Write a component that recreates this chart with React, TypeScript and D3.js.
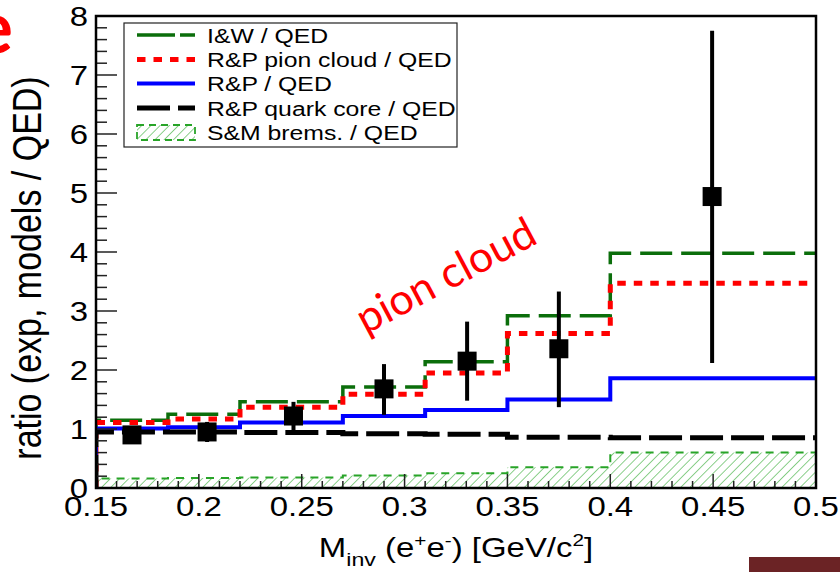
import React from 'react';
import * as d3 from 'd3';

// ---- data ----
const binEdges = [0.15, 0.185, 0.22, 0.27, 0.31, 0.35, 0.4, 0.5];
const iwQED = [1.15, 1.25, 1.46, 1.71, 2.14, 2.92, 3.98];
const pionCloudQED = [1.11, 1.17, 1.37, 1.59, 1.95, 2.62, 3.47];
const rpQED = [1.01, 1.03, 1.11, 1.22, 1.32, 1.5, 1.86];
const quarkCoreQED = [0.95, 0.95, 0.94, 0.92, 0.91, 0.86, 0.85];
const bremsQED = [0.16, 0.17, 0.18, 0.21, 0.25, 0.35, 0.6];

const expX = [0.1675, 0.204, 0.246, 0.29, 0.3304, 0.375, 0.4495];
const expY = [0.9, 0.95, 1.22, 1.68, 2.15, 2.36, 4.94];
const expLow = [0.75, 0.78, 0.98, 1.24, 1.48, 1.37, 2.12];
const expHigh = [1.02, 1.12, 1.46, 2.1, 2.82, 3.33, 7.75];

const xTickLabels = ['0.15', '0.2', '0.25', '0.3', '0.35', '0.4', '0.45', '0.5'];
const yTickLabels = ['0', '1', '2', '3', '4', '5', '6', '7', '8'];

const legendLabels = ['I&W / QED', 'R&P pion cloud / QED', 'R&P / QED', 'R&P quark core / QED', 'S&M brems. / QED'];

const GREEN = '#0b6e0b';
const RED = '#ff0000';
const BLUE = '#0000ff';
const BLACK = '#000000';
const BREMS = '#28a428';
const HATCH = '#6fc46f';
const FONT = '"Liberation Sans", Arial, Helvetica, sans-serif';
const SX = 1.22;

export default function App() {
  const x = d3.scaleLinear().domain([0.15, 0.5]).range([96, 816]);
  const y = d3.scaleLinear().domain([0, 8]).range([488, 16]);

  const stepPts = (vals: number[]) => {
    const pts: [number, number][] = [[binEdges[0], 0]];
    vals.forEach((v, i) => {
      pts.push([binEdges[i], v]);
      pts.push([binEdges[i + 1], v]);
    });
    return pts;
  };
  const line = d3.line<[number, number]>().x(d => x(d[0])).y(d => y(d[1]));
  const area = d3.area<[number, number]>().x(d => x(d[0])).y0(y(0)).y1(d => y(d[1]));

  const bremsPts = stepPts(bremsQED).slice(1);

  const xMajor = xTickLabels.map(Number);
  const xMinor = d3.range(0, 36).map(i => +(0.15 + i * 0.01).toFixed(3)).filter(v => !xMajor.some(m => Math.abs(m - v) < 1e-6));
  const yMajor = yTickLabels.map(Number);
  const yMinor = d3.range(0, 41).map(i => +(i * 0.2).toFixed(2)).filter(v => Math.abs(v - Math.round(v)) > 1e-6);

  const [x0, x1] = x.range();
  const [yb, yt] = y.range();

  const legendRows = [35, 59.5, 83.5, 108, 132.5];

  return (
    <div style={{ position: 'absolute', left: 0, top: 0 }}>
      <svg width={840} height={572} style={{ display: 'block', background: '#fff' }}>
        <defs>
          <clipPath id="plotClip">
            <rect x={x0} y={yt} width={x1 - x0} height={yb - yt} />
          </clipPath>
          <pattern id="hatch" patternUnits="userSpaceOnUse" width={6.5} height={6.5} patternTransform="rotate(45)">
            <line x1={0} y1={0} x2={0} y2={6.5} stroke={HATCH} strokeWidth={1.6} />
          </pattern>
        </defs>

        {/* red "e" fragment */}
        <text x={13} y={53} textAnchor="end" fill={RED} fontFamily='Lato, "Open Sans", sans-serif' fontWeight={700} fontSize={72}>e</text>

        {/* plot contents */}
        <g clipPath="url(#plotClip)">
          <path d={area(bremsPts) || ''} fill="url(#hatch)" stroke="none" />
          <path d={line(stepPts(bremsQED)) || ''} fill="none" stroke={BREMS} strokeWidth={2} strokeDasharray="8 7" />
          <path d={line(stepPts(iwQED)) || ''} fill="none" stroke={GREEN} strokeWidth={3.5} strokeDasharray="32 9" />
          <path d={line(stepPts(pionCloudQED)) || ''} fill="none" stroke={RED} strokeWidth={5} strokeDasharray="8.5 8" />
          <path d={line(stepPts(rpQED)) || ''} fill="none" stroke={BLUE} strokeWidth={4} />
          <path d={line(stepPts(quarkCoreQED)) || ''} fill="none" stroke={BLACK} strokeWidth={5} strokeDasharray="33 8" />
          {expX.map((xv, i) => (
            <g key={i}>
              <line x1={x(xv)} x2={x(xv)} y1={y(expLow[i])} y2={y(expHigh[i])} stroke={BLACK} strokeWidth={4} />
              <rect x={x(xv) - 9.5} y={y(expY[i]) - 9.5} width={19} height={19} fill={BLACK} />
            </g>
          ))}
        </g>

        {/* ticks */}
        {yMajor.map(v => (
          <line key={'ym' + v} x1={x0} x2={x0 + 21} y1={y(v)} y2={y(v)} stroke="#222" strokeWidth={1.5} />
        ))}
        {yMinor.map(v => (
          <line key={'yn' + v} x1={x0} x2={x0 + 11} y1={y(v)} y2={y(v)} stroke="#222" strokeWidth={1.5} />
        ))}
        {xMajor.map(v => (
          <line key={'xm' + v} x1={x(v)} x2={x(v)} y1={yb} y2={yb - 14} stroke="#222" strokeWidth={1.5} />
        ))}
        {xMinor.map(v => (
          <line key={'xn' + v} x1={x(v)} x2={x(v)} y1={yb} y2={yb - 7} stroke="#222" strokeWidth={1.5} />
        ))}

        {/* frame */}
        <rect x={x0} y={yt} width={x1 - x0} height={yb - yt} fill="none" stroke="#000" strokeWidth={2.5} />

        {/* tick labels */}
        {yTickLabels.map((t, i) => (
          <text key={'yl' + t} transform={`translate(88,${y(yMajor[i]) + 9.5}) scale(${SX},1)`} textAnchor="end" fontFamily={FONT} fontSize={27} fill="#000">{t}</text>
        ))}
        {xTickLabels.map((t, i) => (
          <text key={'xl' + t} transform={`translate(${x(xMajor[i])},516) scale(${SX},1)`} textAnchor="middle" fontFamily={FONT} fontSize={27} fill="#000">{t}</text>
        ))}

        {/* axis titles */}
        <text transform={`translate(41,268) scale(${SX},1) rotate(-90)`} textAnchor="middle" fontFamily={FONT} fontSize={34} fill="#000">ratio (exp, models / QED)</text>
        <text transform={`translate(456,557) scale(${SX},1)`} textAnchor="middle" fontFamily={FONT} fontSize={27} fill="#000">
          M<tspan fontSize={19} dy={9}>inv</tspan><tspan dy={-9}> (e</tspan><tspan fontSize={17} dy={-11}>+</tspan><tspan dy={11}>e</tspan><tspan fontSize={17} dy={-11}>-</tspan><tspan dy={11}>) [GeV/c</tspan><tspan fontSize={17} dy={-11}>2</tspan><tspan dy={11}>]</tspan>
        </text>

        {/* legend */}
        <rect x={124} y={23} width={333} height={124} fill="#fff" stroke="#222" strokeWidth={1.2} />
        <line x1={137} x2={195} y1={legendRows[0]} y2={legendRows[0]} stroke={GREEN} strokeWidth={3.5} strokeDasharray="38 5" />
        <line x1={137} x2={195} y1={legendRows[1]} y2={legendRows[1]} stroke={RED} strokeWidth={5} strokeDasharray="8.5 8" />
        <line x1={137} x2={195} y1={legendRows[2]} y2={legendRows[2]} stroke={BLUE} strokeWidth={4} />
        <line x1={137} x2={195} y1={legendRows[3]} y2={legendRows[3]} stroke={BLACK} strokeWidth={5} strokeDasharray="33 8" />
        <rect x={137} y={legendRows[4] - 7.5} width={58} height={15} fill="url(#hatch)" stroke={BREMS} strokeWidth={1.8} strokeDasharray="7 5" />
        {legendLabels.map((l, i) => (
          <text key={l} transform={`translate(207,${legendRows[i] + 7.5}) scale(1.18,1)`} fontFamily={FONT} fontSize={21} fill="#000">{l}</text>
        ))}

        {/* annotation */}
        <text transform="translate(447,278) rotate(-28)" textAnchor="middle" fontFamily='Lato, "Open Sans", sans-serif' fontSize={43} fill={RED} dy={12}>pion cloud</text>

        {/* corner bar */}
        <rect x={749} y={557} width={91} height={15} fill="#6b2325" />
      </svg>
    </div>
  );
}
